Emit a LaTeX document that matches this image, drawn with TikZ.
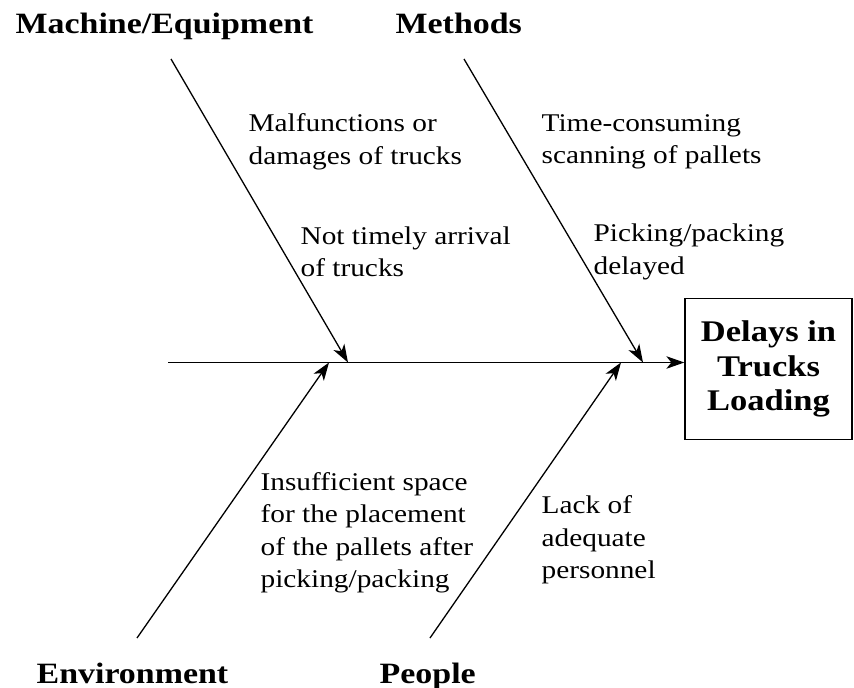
\documentclass[tikz,border=0pt]{standalone}
\usepackage{fontspec}
\setmainfont{Liberation Serif}[FakeStretch=1.15]
\usetikzlibrary{arrows.meta,positioning}

\begin{document}
\begin{tikzpicture}[x=1pt, y=-1pt, >={Stealth[length=18pt,width=12.5pt,inset=5pt]}, line width=1.3pt,
    cause/.style={anchor=west, align=left, inner sep=0pt, font=\fontsize{25.5}{32.5}\selectfont},
    category/.style={anchor=base west, inner sep=0pt, font=\fontsize{29.5}{35}\selectfont\bfseries},
    effect/.style={draw, minimum width=167pt, minimum height=141pt, align=center,
                   font=\fontsize{30}{34.5}\selectfont\bfseries}]

    \useasboundingbox (0,0) rectangle (854,688);

    % head of the fish
    \node[effect] (effect) at (768.5,369) {Delays in\\Trucks\\Loading};

    % spine
    \coordinate (tail) at (168,362.5);
    \draw[->] (tail) -- (tail -| effect.west);

    % categories
    \node[category] (machine)     at (15,33)  {Machine/Equipment};
    \node[category] (methods)     at (395,33) {Methods};
    \node[category] (environment) at (36,683) {Environment};
    \node[category] (people)      at (379,683) {People};

    % bones
    \coordinate (machine end)     at (171,59);
    \coordinate (methods end)     at (464,59);
    \coordinate (environment end) at (137,638);
    \coordinate (people end)      at (430,638);
    \coordinate (machine tip)     at (348,362.5);
    \coordinate (methods tip)     at (643,362.5);
    \coordinate (environment tip) at (329,362.5);
    \coordinate (people tip)      at (621,362.5);

    \draw[->] (machine end)     -- (machine tip);
    \draw[->] (methods end)     -- (methods tip);
    \draw[->] (environment end) -- (environment tip);
    \draw[->] (people end)      -- (people tip);

    % causes
    \node[cause] (malfunctions) at (248,142) {Malfunctions or\\damages of trucks};
    \node[cause] (arrival)      at (300,252) {Not timely arrival\\of trucks};
    \node[cause] (scanning)     at (541,142) {Time-consuming\\scanning of pallets};
    \node[cause] (picking)      at (593,252) {Picking/packing\\delayed};
    \node[cause] (space)        at (260,533) {Insufficient space\\for the placement\\of the pallets after\\picking/packing};
    \node[cause] (personnel)    at (541,540) {Lack of\\adequate\\personnel};

\end{tikzpicture}
\end{document}
